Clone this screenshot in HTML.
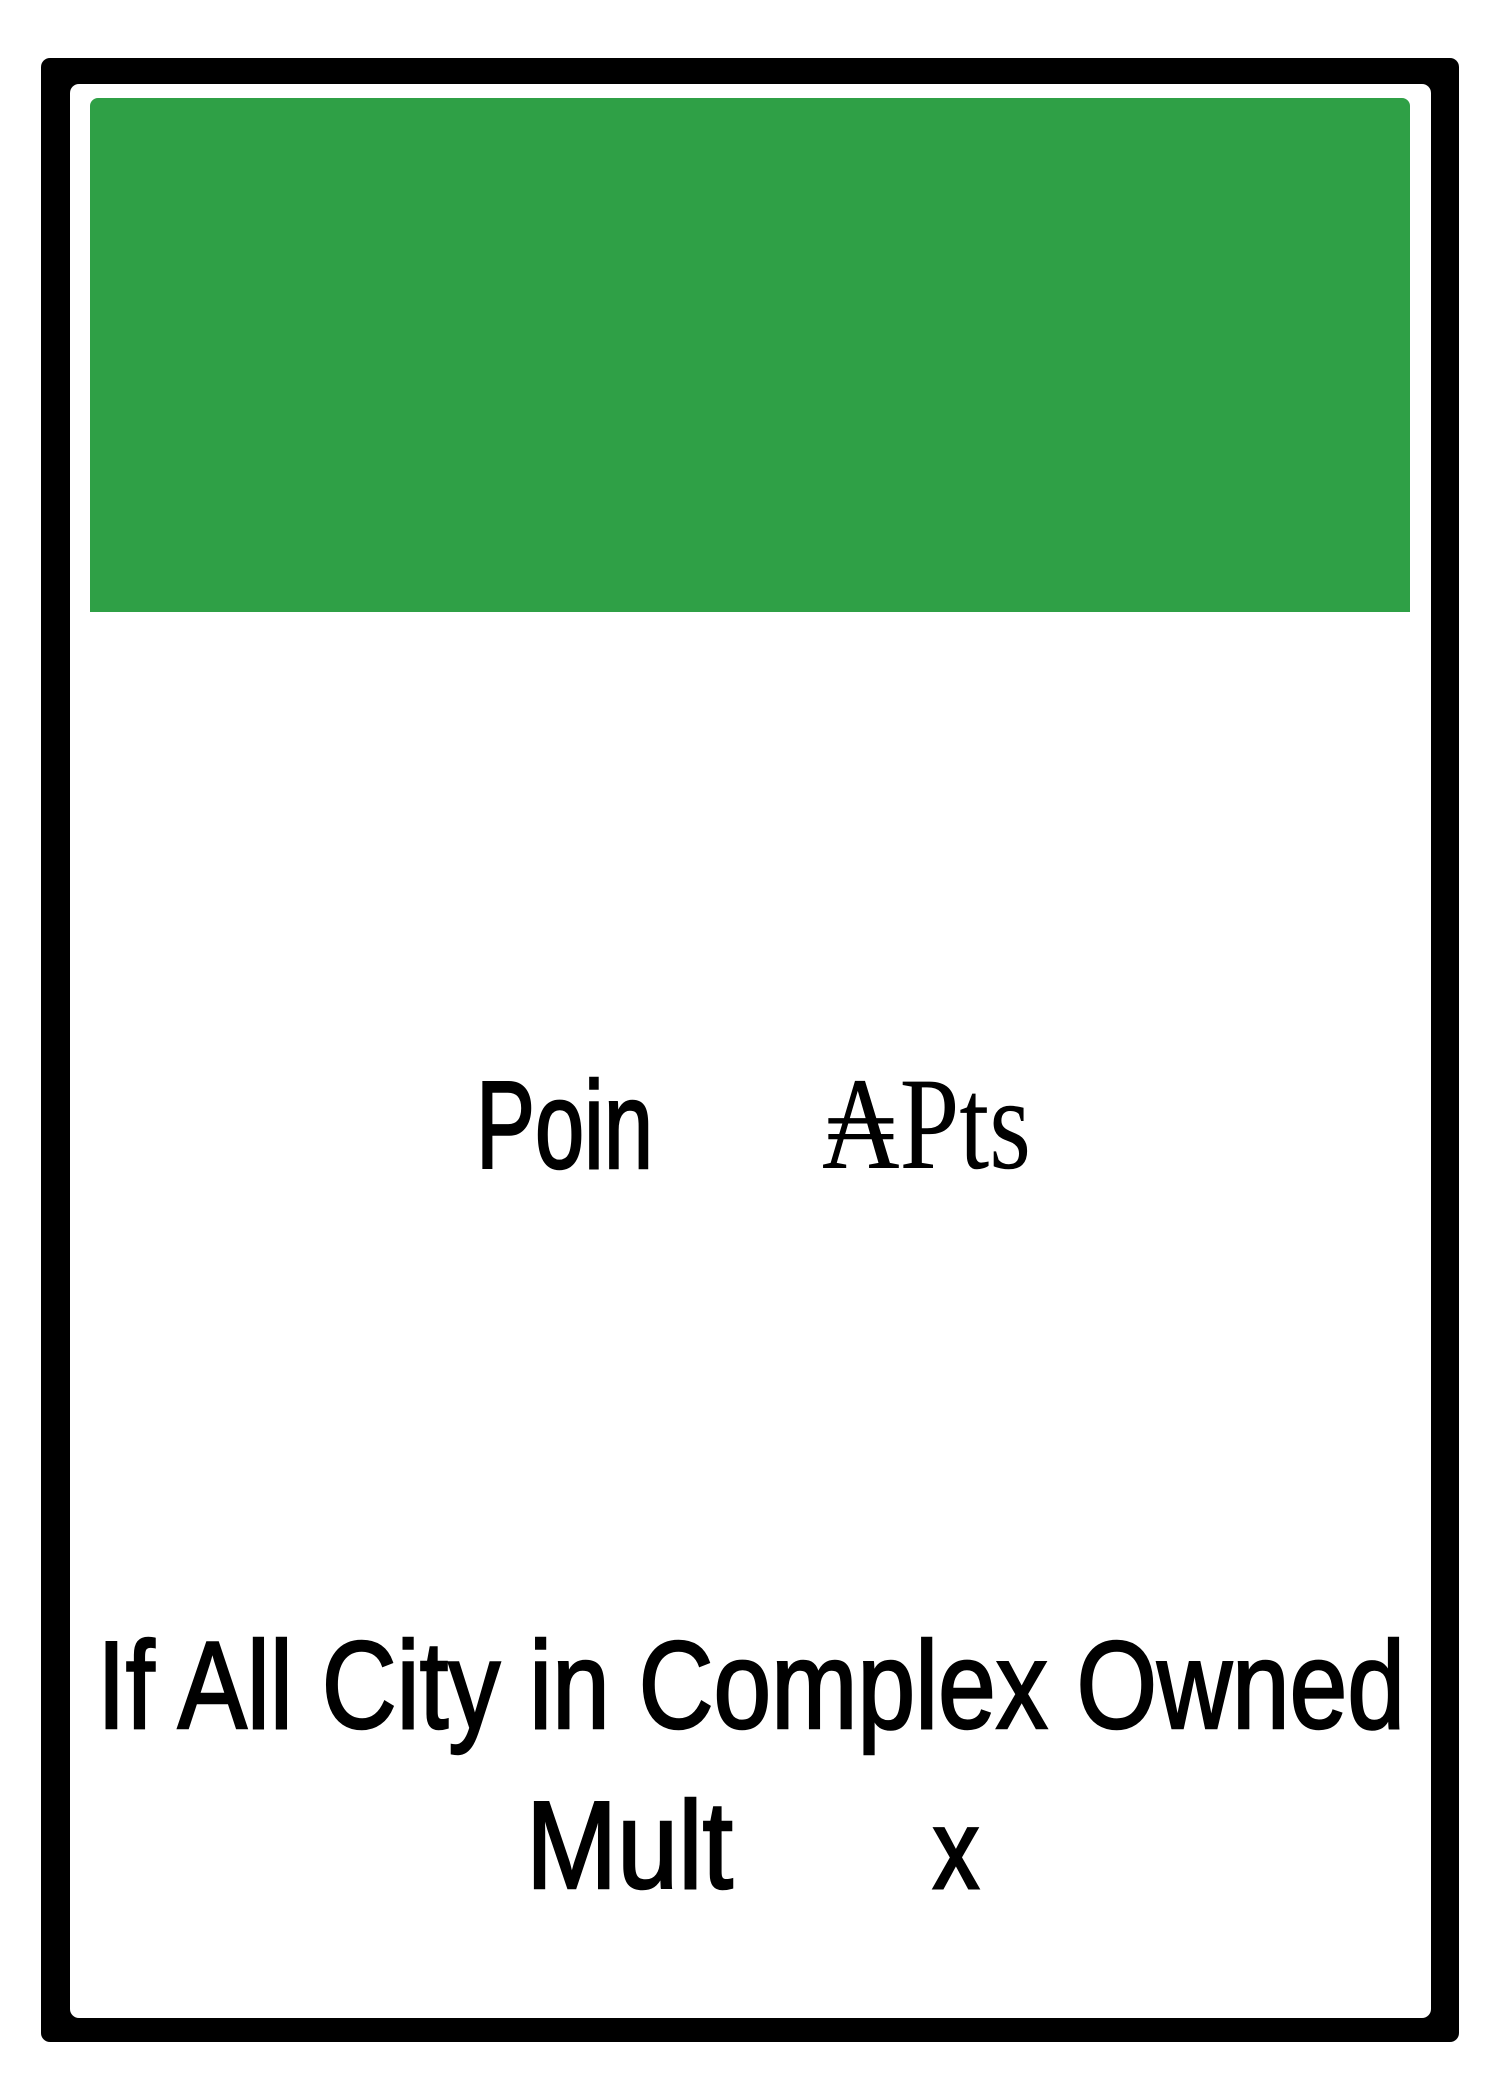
<!DOCTYPE html>
<html><head><meta charset="utf-8"><style>
html,body{margin:0;padding:0;background:#fff;}
svg{display:block;}
</style></head><body>
<svg width="1500" height="2100" viewBox="0 0 1500 2100" xmlns="http://www.w3.org/2000/svg">
  <rect x="41" y="58" width="1418" height="1984" rx="9" fill="#000"/>
  <rect x="70" y="84" width="1361" height="1934" rx="9" fill="#fff"/>
  <path d="M90,106 a8,8 0 0 1 8,-8 H1402 a8,8 0 0 1 8,8 V612 H90 Z" fill="#2fa046"/>
  <text x="476" y="1168" font-family="'Liberation Sans', sans-serif" font-size="124" textLength="177" lengthAdjust="spacingAndGlyphs" fill="#000" stroke="#000" stroke-width="2.5">Poin</text>
  <text x="822" y="1168" font-family="'Liberation Serif', serif" font-size="132" textLength="209" lengthAdjust="spacingAndGlyphs" fill="#000">₳Pts</text>
  <text x="97" y="1728" font-family="'Liberation Sans', sans-serif" font-size="124" textLength="1308" lengthAdjust="spacingAndGlyphs" fill="#000" stroke="#000" stroke-width="2.5">If All City in Complex Owned</text>
  <text x="526" y="1888" font-family="'Liberation Sans', sans-serif" font-size="124" textLength="207" lengthAdjust="spacingAndGlyphs" fill="#000" stroke="#000" stroke-width="2.5">Mult</text>
  <text x="933" y="1888" font-family="'Liberation Sans', sans-serif" font-size="112" textLength="46" lengthAdjust="spacingAndGlyphs" fill="#000" stroke="#000" stroke-width="3">x</text>
</svg>
</body></html>
